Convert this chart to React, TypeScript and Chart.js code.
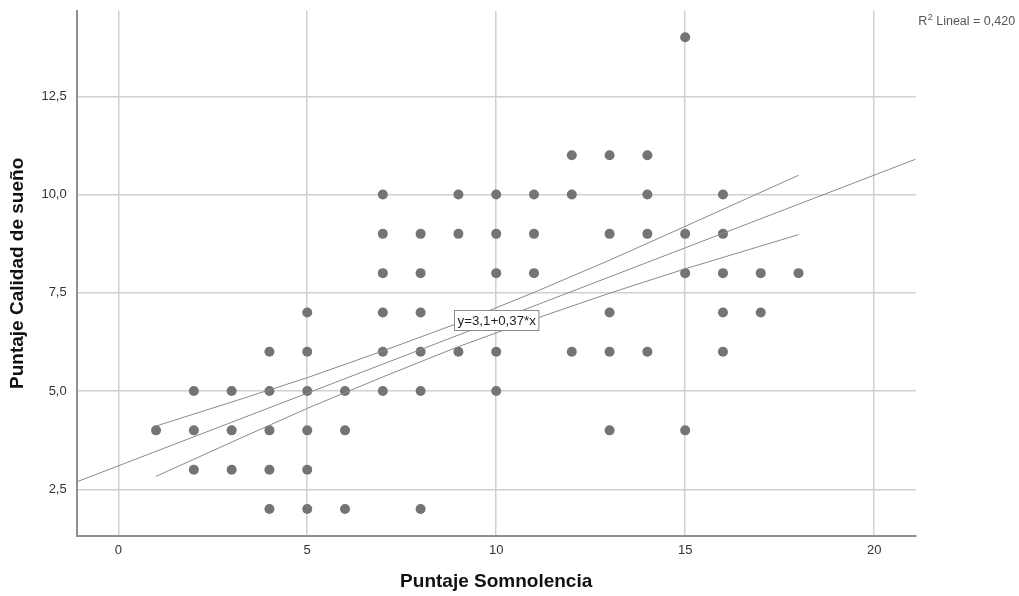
import React, { useEffect, useRef } from 'react';
import { Chart, registerables } from 'chart.js';

Chart.register(...registerables);

// ---- Data ----
const somnolencia = [
  1,
  2, 2, 2,
  3, 3, 3,
  4, 4, 4, 4, 4,
  5, 5, 5, 5, 5, 5,
  6, 6, 6,
  7, 7, 7, 7, 7, 7,
  8, 8, 8, 8, 8, 8,
  9, 9, 9,
  10, 10, 10, 10, 10,
  11, 11, 11,
  12, 12, 12,
  13, 13, 13, 13, 13,
  14, 14, 14, 14,
  15, 15, 15, 15,
  16, 16, 16, 16, 16,
  17, 17,
  18,
];
const calidad = [
  4,
  5, 4, 3,
  5, 4, 3,
  6, 5, 4, 3, 2,
  7, 6, 5, 4, 3, 2,
  5, 4, 2,
  10, 9, 8, 7, 6, 5,
  9, 8, 7, 6, 5, 2,
  10, 9, 6,
  10, 9, 8, 6, 5,
  10, 9, 8,
  11, 10, 6,
  11, 9, 7, 6, 4,
  11, 10, 9, 6,
  14, 9, 8, 4,
  10, 9, 8, 7, 6,
  8, 7,
  8,
];

// Fit line (y = 3,1 + 0,37*x), end points across the axis
const fitX = [-1.1, 21.1];
const fitY = [2.69, 10.9];

// Confidence band curves
const bandX = [1, 3, 5, 7, 9, 11, 13, 15, 18];
const bandUpper = [4.11, 4.72, 5.34, 6.02, 6.73, 7.51, 8.33, 9.19, 10.49];
const bandLower = [2.83, 3.7, 4.56, 5.36, 6.13, 6.83, 7.49, 8.11, 8.98];

const xTicks = [0, 5, 10, 15, 20];
const yTicks = [2.5, 5, 7.5, 10, 12.5];
const xRange = [-1.1, 21.1];
const yRange = [1.32, 14.67];

const eqIntercept = 3.1;
const eqSlope = 0.37;
const eqLabelAtX = 10;
const eqText = 'y=3,1+0,37*x';
const r2Text = ' Lineal = 0,420';

const FONT = '"Liberation Sans", Arial, Helvetica, sans-serif';

const annotPlugin = {
  id: 'annot',
  afterDatasetsDraw(chart: any) {
    const { ctx } = chart;
    const x = chart.scales.x;
    const y = chart.scales.y;
    ctx.save();
    // equation label box
    const px = x.getPixelForValue(eqLabelAtX);
    const py = y.getPixelForValue(eqIntercept + eqSlope * eqLabelAtX);
    ctx.font = `13.3px ${FONT}`;
    const w = ctx.measureText(eqText).width + 6;
    const h = 20;
    const bx = Math.round(px - w / 2) + 0.5;
    const by = Math.round(py - h / 2) + 0.5;
    ctx.fillStyle = '#ffffff';
    ctx.fillRect(bx, by, w, h);
    ctx.strokeStyle = '#8c8c8c';
    ctx.lineWidth = 1;
    ctx.strokeRect(bx, by, w, h);
    ctx.fillStyle = '#222222';
    ctx.textAlign = 'center';
    ctx.textBaseline = 'middle';
    ctx.fillText(eqText, bx + w / 2, by + h / 2 + 0.5);

    // R² label
    const rx = chart.chartArea.right + 2.5;
    const ry = 25;
    ctx.textAlign = 'left';
    ctx.textBaseline = 'alphabetic';
    ctx.fillStyle = '#555555';
    ctx.font = `12.5px ${FONT}`;
    ctx.fillText('R', rx, ry);
    const rw = ctx.measureText('R').width;
    ctx.font = `9px ${FONT}`;
    ctx.fillText('2', rx + rw + 0.5, ry - 5);
    const sw = ctx.measureText('2').width;
    ctx.font = `12.5px ${FONT}`;
    ctx.fillText(r2Text, rx + rw + sw + 0.5, ry);
    ctx.restore();
  },
};

export default function App() {
  const canvasRef = useRef<HTMLCanvasElement | null>(null);

  useEffect(() => {
    const canvas = canvasRef.current;
    if (!canvas) return;
    const points = somnolencia.map((v, i) => ({ x: v, y: calidad[i] }));
    const fit = fitX.map((v, i) => ({ x: v, y: fitY[i] }));
    const upper = bandX.map((v, i) => ({ x: v, y: bandUpper[i] }));
    const lower = bandX.map((v, i) => ({ x: v, y: bandLower[i] }));
    const lineDs = (data: any[]) => ({
      data,
      showLine: true,
      borderColor: '#8a8a8a',
      borderWidth: 1,
      pointRadius: 0,
      pointHoverRadius: 0,
      fill: false,
      tension: 0,
      order: 1,
    });

    const chart = new Chart(canvas, {
      type: 'scatter',
      data: {
        datasets: [
          {
            data: points,
            backgroundColor: '#747474',
            borderWidth: 0,
            pointRadius: 5,
            pointHoverRadius: 5,
            order: 2,
          } as any,
          lineDs(fit) as any,
          lineDs(upper) as any,
          lineDs(lower) as any,
        ],
      },
      options: {
        animation: false,
        responsive: false,
        events: [],
        layout: { padding: { top: 11, right: 103.3, left: 0, bottom: 0 } },
        plugins: { legend: { display: false }, tooltip: { enabled: false } },
        scales: {
          x: {
            type: 'linear',
            min: xRange[0],
            max: xRange[1],
            afterBuildTicks: (s: any) => {
              s.ticks = xTicks.map((v) => ({ value: v }));
            },
            afterFit: (s: any) => {
              s.height = 60.3;
              s.paddingLeft = 0;
              s.paddingRight = 0;
            },
            grid: { color: '#d0d0d0', lineWidth: 1.5, drawTicks: false },
            border: { color: '#8f8f8f', width: 2 },
            ticks: {
              padding: 7,
              color: '#333333',
              font: { size: 13, family: FONT },
              callback: (v: any) => String(v),
            },
            title: {
              display: true,
              text: 'Puntaje Somnolencia',
              color: '#111111',
              font: { size: 19, weight: 'bold', family: FONT },
              padding: { top: 0, bottom: 3 },
            },
          },
          y: {
            type: 'linear',
            min: yRange[0],
            max: yRange[1],
            afterBuildTicks: (s: any) => {
              s.ticks = yTicks.map((v) => ({ value: v }));
            },
            afterFit: (s: any) => {
              s.width = 76.7;
              s.paddingTop = 0;
              s.paddingBottom = 0;
            },
            grid: { color: '#d0d0d0', lineWidth: 1.5, drawTicks: false },
            border: { color: '#8f8f8f', width: 2 },
            ticks: {
              padding: 10,
              color: '#333333',
              font: { size: 13, family: FONT },
              callback: (v: any) => Number(v).toFixed(1).replace('.', ','),
            },
            title: {
              display: true,
              text: 'Puntaje Calidad de sueño',
              color: '#111111',
              font: { size: 19, weight: 'bold', family: FONT },
              padding: { top: 6.6, bottom: 0 },
            },
          },
        },
      } as any,
      plugins: [annotPlugin],
    });
    return () => chart.destroy();
  }, []);

  return (
    <canvas
      ref={canvasRef}
      width={1019}
      height={596}
      style={{ position: 'fixed', left: 0, top: 0, width: 1019, height: 596, display: 'block', background: '#ffffff' }}
    />
  );
}
